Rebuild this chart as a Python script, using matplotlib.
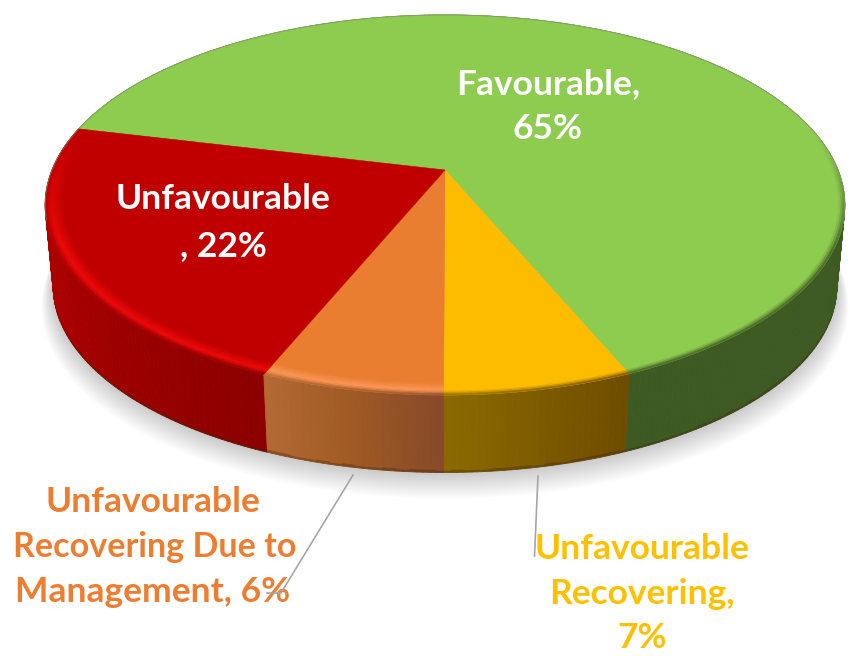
import numpy as np
import matplotlib
matplotlib.use('Agg')
import matplotlib.pyplot as plt
from matplotlib.collections import PolyCollection
from matplotlib.colors import to_rgb

plt.rcParams['font.family'] = ['Lato', 'DejaVu Sans']

# data, clockwise from the green / red edge
categories = ['Favourable', 'Unfavourable Recovering',
              'Unfavourable Recovering Due to Management', 'Unfavourable']
shares = [64.9, 6.4, 6.2, 22.5]
top_colors = ['#8ECC50', '#FDBC00', '#E97E31', '#C00000']
# side shading, from slice start to slice end
side_colors = [['#3E5A23', '#3E5A23'],
               ['#6E4C00', '#8C6A00'],
               ['#86492A', '#A05A24', '#B46A34'],
               ['#8C0000', '#A80000', '#C00000']]
rim_colors = ['#8ECC50', '#FDBC00', '#FA9655', '#EC0A0A']

start_angle = 166.5

# projection of the disc
cx, cy = 445, 170
rx, ry = 393, 183.6
persp = 0.184
shrink = 0.98
depth = 82


def project(theta, r=1.0, lower=False):
    u = r * np.cos(theta)
    v = r * np.sin(theta)
    w = 1 + persp * v
    if lower:
        return cx + shrink * rx * u / w, cy + depth - shrink * ry * v / w
    return cx + rx * u / w, cy - ry * v / w


def blend(a, b, t):
    return tuple(np.array(a) * (1 - t) + np.array(b) * t)


def ramp(stops, t):
    stops = [to_rgb(c) for c in stops]
    p = t * (len(stops) - 1)
    i = min(int(p), len(stops) - 2)
    return blend(stops[i], stops[i + 1], p - i)


fig, ax = plt.subplots(figsize=(8.58, 6.56), dpi=100)
ax.set_position([0, 0, 1, 1])
ax.set_xlim(0, 858)
ax.set_ylim(656, 0)
ax.axis('off')

# slice angles
sweeps = np.array(shares) / sum(shares) * 2 * np.pi
edges = np.radians(start_angle) - np.concatenate([[0], np.cumsum(sweeps)])

# soft shadow under the disc
full = np.linspace(0, 2 * np.pi, 240)
for i in range(14):
    grow = 1 + i * 0.0022
    sx, sy = project(full, r=grow, lower=True)
    ax.fill(sx, sy + i * 1.4, color='black', alpha=0.016, lw=0, zorder=1)

# side wall, back strips first
strips, strip_colors, order = [], [], []
for k in range(len(shares)):
    n = max(int(sweeps[k] * 70), 8)
    th = np.linspace(edges[k], edges[k + 1], n + 1)
    for j in range(n):
        t = (j + 0.5) / n
        c = ramp(side_colors[k], t)
        x0, y0 = project(th[j])
        x1, y1 = project(th[j + 1])
        x2, y2 = project(th[j + 1], lower=True)
        x3, y3 = project(th[j], lower=True)
        xm = x2 + (x1 - x2) * 0.03
        ym = y2 + (y1 - y2) * 0.03
        xn = x3 + (x0 - x3) * 0.03
        yn = y3 + (y0 - y3) * 0.03
        strips.append([(x0, y0), (x1, y1), (xm, ym), (xn, yn)])
        strip_colors.append(c)
        order.append(-np.sin(th[j]))
        strips.append([(xn, yn), (xm, ym), (x2, y2), (x3, y3)])
        strip_colors.append(blend(c, (0.25, 0.13, 0.02), 0.35))
        order.append(-np.sin(th[j]))
idx = np.argsort(order)
ax.add_collection(PolyCollection([strips[i] for i in idx],
                                 facecolors=[strip_colors[i] for i in idx],
                                 edgecolors=[strip_colors[i] for i in idx],
                                 linewidths=0.6, zorder=2))

# top face
for k in range(len(shares)):
    th = np.linspace(edges[k], edges[k + 1], 200)
    x, y = project(th)
    ax.fill(np.r_[cx, x], np.r_[cy, y], color=top_colors[k], lw=0.4, zorder=3)

# rim bevel on the front of the top face
ring_steps = np.linspace(0.955, 1.0, 10)
for k in range(len(shares)):
    n = max(int(sweeps[k] * 70), 8)
    th = np.linspace(edges[k], edges[k + 1], n + 1)
    polys, cols = [], []
    for j in range(n):
        t = (j + 0.5) / n
        front = np.clip((-np.sin(th[j]) + 0.2) / 0.6, 0, 1)
        base = to_rgb(top_colors[k])
        rim = to_rgb(rim_colors[k])
        side = ramp(side_colors[k], t)
        for m in range(len(ring_steps) - 1):
            s = (m + 0.5) / (len(ring_steps) - 1)
            if s < 0.6:
                c = blend(base, rim, s / 0.6)
            else:
                c = blend(rim, side, ((s - 0.6) / 0.4) ** 1.5)
            c = blend(base, c, front)
            a0, b0 = project(th[j], ring_steps[m])
            a1, b1 = project(th[j + 1], ring_steps[m])
            a2, b2 = project(th[j + 1], ring_steps[m + 1])
            a3, b3 = project(th[j], ring_steps[m + 1])
            polys.append([(a0, b0), (a1, b1), (a2, b2), (a3, b3)])
            cols.append(c)
    ax.add_collection(PolyCollection(polys, facecolors=cols, edgecolors=cols,
                                     linewidths=0.4, zorder=4))

# thin grey line round the back of the disc
back = np.linspace(np.radians(-15), np.radians(195), 200)
bx, by = project(back)
ax.plot(bx, by, color='#7F8F70', lw=0.7, alpha=0.7, zorder=5)

# leader lines
ax.plot([353, 281, 267], [475, 593, 593], color='#A6A6A6', lw=1.2, zorder=8)
ax.plot([538, 534.5], [476, 556], color='#A6A6A6', lw=1.2, zorder=6)

# labels
for txt, x, y, col, fs in [('Favourable,', 548, 84, 'white', 25.5),
                           ('65%', 548, 129, 'white', 25.5),
                           ('Unfavourable', 223, 199, 'white', 25.5),
                           (', 22%', 223, 246, 'white', 25.5),
                           ('Unfavourable', 153, 502, '#ED7D31', 25.5),
                           ('Recovering Due to', 155, 547, '#ED7D31', 24.6),
                           ('Management, 6%', 153, 592, '#ED7D31', 25.5),
                           ('Unfavourable', 642, 549, '#FFC000', 25.5),
                           ('Recovering,', 642, 594, '#FFC000', 25.5),
                           ('7%', 642, 638, '#FFC000', 25.5)]:
    ax.text(x, y, txt, color=col, fontsize=fs, fontweight='bold',
            ha='center', va='center', zorder=7)

fig.savefig('out.png', dpi=100)
